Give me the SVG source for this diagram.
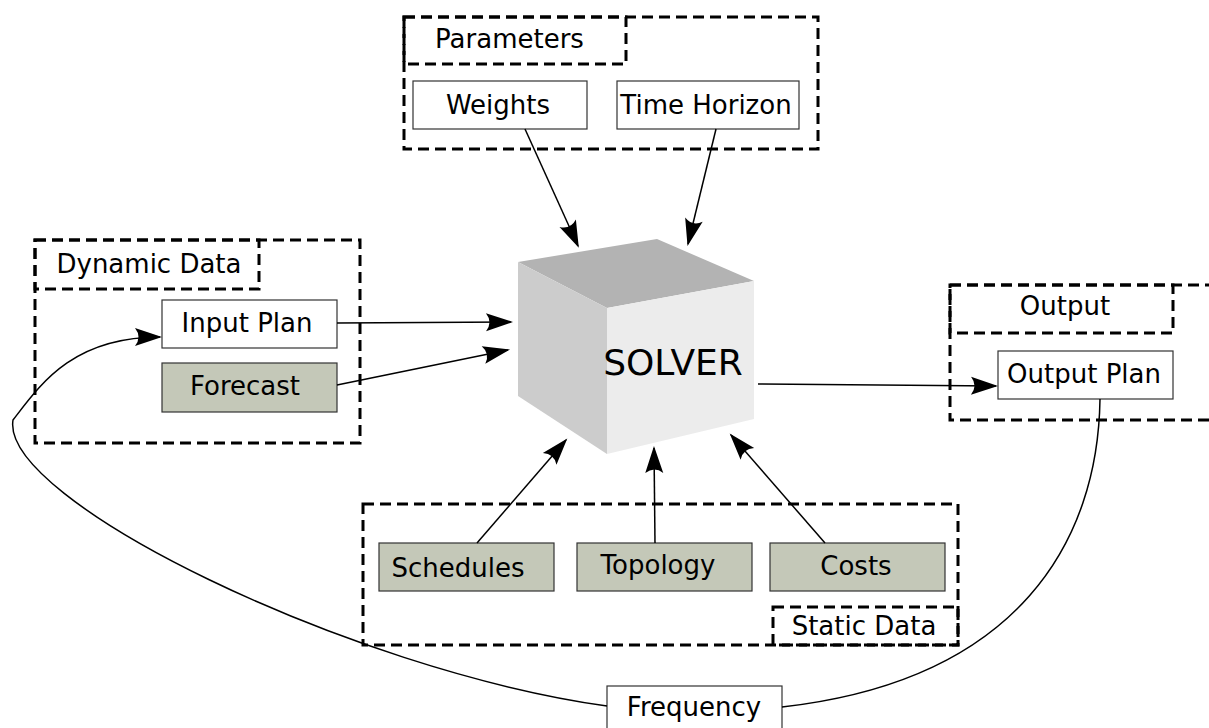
<svg xmlns="http://www.w3.org/2000/svg" width="1209" height="728" viewBox="0 0 1209 728">
<style>
.grp{fill:none;stroke:#000;stroke-width:3;stroke-dasharray:11,6}
.box{fill:#fff;stroke:#333;stroke-width:1.2}
.gbox{fill:#c4c8b8;stroke:#333;stroke-width:1.2}
.t{font-family:"DejaVu Sans",Verdana,sans-serif;font-size:26px;fill:#000;text-anchor:middle}
.c{fill:none;stroke:#000;stroke-width:1.5}
</style>
<defs>
<marker id="arr" markerUnits="userSpaceOnUse" viewBox="-28 -10 32 20" refX="0" refY="0" markerWidth="32" markerHeight="20" orient="auto">
<path d="M2,0 L-25,-9 Q-18,0 -25,9 Z" fill="#000"/>
</marker>
</defs>
<rect width="1209" height="728" fill="#fff"/>

<g id="parameters">
<rect class="grp" x="404" y="17" width="414" height="132"/>
<rect class="grp" x="404" y="17" width="222" height="47"/>
<text class="t" x="509.5" y="48">Parameters</text>
</g>
<g id="weights">
<rect class="box" x="413" y="81" width="174" height="48"/>
<text class="t" x="498" y="114">Weights</text>
</g>
<g id="time-horizon">
<rect class="box" x="617" y="81" width="182" height="48"/>
<text class="t" x="706" y="114">Time Horizon</text>
</g>

<g id="dynamic-data">
<rect class="grp" x="35" y="240" width="325" height="203"/>
<rect class="grp" x="35" y="240" width="224" height="49"/>
<text class="t" x="149" y="273">Dynamic Data</text>
</g>
<g id="input-plan">
<rect class="box" x="162" y="300" width="175" height="48"/>
<text class="t" x="247" y="332">Input Plan</text>
</g>
<g id="forecast">
<rect class="gbox" x="162" y="363" width="175" height="49"/>
<text class="t" x="245" y="395">Forecast</text>
</g>

<g id="solver">
<polygon points="518,262 657,239 754,281 607,308" fill="#b3b3b3"/>
<polygon points="518,262 607,308 607,454 518,396" fill="#cccccc"/>
<polygon points="607,308 754,281 754,419 607,454" fill="#ececec"/>
<text class="t" x="673" y="375" style="font-size:36px">SOLVER</text>
</g>

<g id="output">
<rect class="grp" x="950" y="285" width="300" height="135"/>
<rect class="grp" x="950" y="285" width="223" height="48"/>
<text class="t" x="1065" y="315">Output</text>
</g>
<g id="output-plan">
<rect class="box" x="998" y="351" width="175" height="48"/>
<text class="t" x="1084" y="383">Output Plan</text>
</g>

<g id="static-data">
<rect class="grp" x="363" y="504" width="595" height="141"/>
<rect class="grp" x="773" y="607" width="185" height="38"/>
<text class="t" x="864" y="635">Static Data</text>
</g>
<g id="schedules">
<rect class="gbox" x="379" y="543" width="175" height="48"/>
<text class="t" x="458" y="577">Schedules</text>
</g>
<g id="topology">
<rect class="gbox" x="577" y="543" width="175" height="48"/>
<text class="t" x="658" y="574">Topology</text>
</g>
<g id="costs">
<rect class="gbox" x="770" y="543" width="175" height="48"/>
<text class="t" x="856" y="575">Costs</text>
</g>

<g id="frequency">
<rect class="box" x="607" y="686" width="175" height="48"/>
<text class="t" x="694" y="716">Frequency</text>
</g>

<g id="connectors">
<line class="c" x1="525" y1="129" x2="578" y2="246" marker-end="url(#arr)"/>
<line class="c" x1="716" y1="129" x2="688" y2="244" marker-end="url(#arr)"/>
<line class="c" x1="337" y1="323" x2="511" y2="322" marker-end="url(#arr)"/>
<line class="c" x1="337" y1="385" x2="508" y2="350" marker-end="url(#arr)"/>
<line class="c" x1="758" y1="384" x2="996" y2="386" marker-end="url(#arr)"/>
<line class="c" x1="477" y1="543" x2="566" y2="440" marker-end="url(#arr)"/>
<line class="c" x1="655" y1="543" x2="654" y2="448" marker-end="url(#arr)"/>
<line class="c" x1="825" y1="543" x2="731" y2="435" marker-end="url(#arr)"/>
<path class="c" d="M607,706 C350,670 0,500 13,420 C40,385 72,337 160,337" marker-end="url(#arr)"/>
<path class="c" d="M1100,399 C1098,540 1020,680 782,707"/>
</g>
</svg>
